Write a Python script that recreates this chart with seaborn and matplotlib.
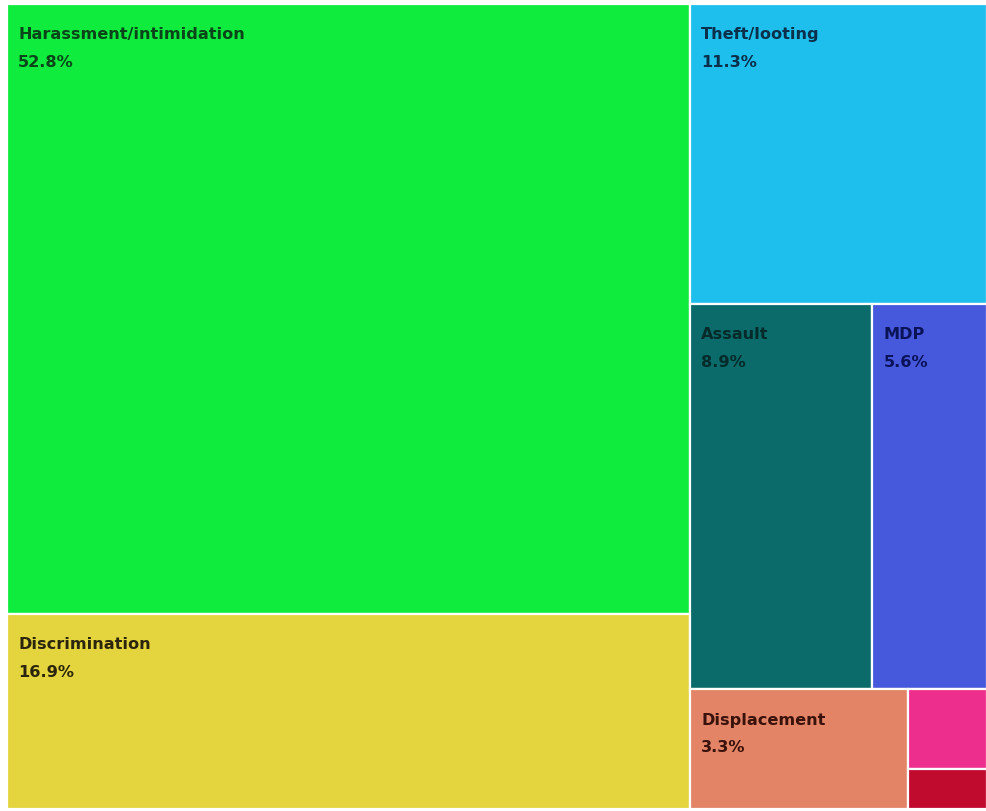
import matplotlib
matplotlib.use("Agg")
import matplotlib.pyplot as plt
import seaborn as sns
from matplotlib.patches import Rectangle

# data (share of incidents, %)
categories = ["Harassment/intimidation", "Discrimination", "Theft/looting", "Assault",
              "MDP", "Displacement", "Other", "Unknown"]
values = [52.8, 16.9, 11.3, 8.9, 5.6, 3.3, 0.8, 0.4]
show_label = [True, True, True, True, True, True, False, False]
colors = ["#0fec3e", "#e4d43e", "#1fbfed", "#0b6b6b", "#4659dc", "#e28465", "#ee2e8c", "#c00b2f"]
text_colors = ["#0a4418", "#2a250c", "#0a2f4a", "#052a2a", "#0a1258", "#3a120c", "#000000", "#000000"]

# nesting of the treemap: "v" = stacked top-to-bottom, "h" = side by side
layout = ("h", [
    ("v", [0, 1]),
    ("v", [2, ("h", [3, 4]), ("h", [5, ("v", [6, 7])])]),
])


def total(node):
    if isinstance(node, int):
        return values[node]
    return sum(total(c) for c in node[1])


def place(node, x, y, w, h, out):
    if isinstance(node, int):
        out[node] = (x, y, w, h)
        return
    direction, children = node
    s = total(node)
    pos = 0.0
    for c in children:
        frac = total(c) / s
        if direction == "h":
            place(c, x + pos * w, y, w * frac, h, out)
        else:
            place(c, x, y + pos * h, w, h * frac, out)
        pos += frac


rects = {}
place(layout, 0, 0, 1, 1, rects)

sns.set_theme(style="white")
plt.rcParams["font.family"] = ["DejaVu Sans"]

fig = plt.figure(figsize=(9.87, 8.12), dpi=100)
ax = fig.add_axes([7 / 987, 2 / 812, 980 / 987, 805 / 812])
ax.set_xlim(0, 1)
ax.set_ylim(1, 0)
ax.axis("off")

for i, name in enumerate(categories):
    x, y, w, h = rects[i]
    ax.add_patch(Rectangle((x, y), w, h, facecolor=colors[i], edgecolor="white", linewidth=1.6))
    if show_label[i]:
        ax.annotate(name, (x, y), xytext=(8, -16), textcoords="offset points",
                    ha="left", va="top", fontsize=11.6, fontweight="bold", color=text_colors[i])
        ax.annotate(f"{values[i]}%", (x, y), xytext=(8, -36), textcoords="offset points",
                    ha="left", va="top", fontsize=11.6, fontweight="bold", color=text_colors[i])

fig.savefig("out.png", dpi=100, facecolor="white")
